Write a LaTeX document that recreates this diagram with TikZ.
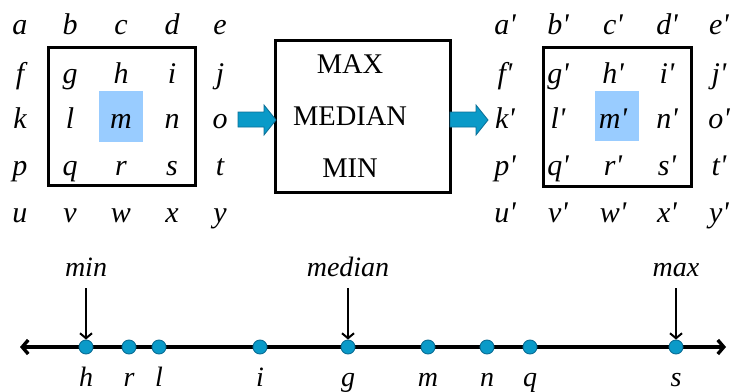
\documentclass[tikz,border=0pt]{standalone}
\usepackage{fontspec}
\setmainfont{Liberation Serif}[Ligatures=TeX]
\usetikzlibrary{arrows.meta,calc}
\definecolor{hilite}{HTML}{99CCFF}
\definecolor{teal}{HTML}{0A9AC8}
\definecolor{tealdark}{HTML}{0A6E96}
\begin{document}
\begin{tikzpicture}[x=1pt,y=-1pt,
  lt/.style={anchor=base,inner sep=0pt,font=\fontsize{30}{32}\selectfont\rmfamily\itshape},
  lb/.style={anchor=base,inner sep=0pt,font=\fontsize{28}{30}\selectfont\rmfamily\itshape},
  up/.style={anchor=base,inner sep=0pt,font=\fontsize{28.5}{30}\selectfont\rmfamily},
  frame/.style={draw=black,line width=3pt},
  blk/.style={fill=teal,draw=tealdark,line width=0.8pt},
  dot/.style={circle,fill=teal,draw=tealdark,line width=0.9pt,minimum size=14pt,inner sep=0pt},
  axis/.style={line width=3.4pt,{Straight Barb[length=6pt,width=14pt]}-{Straight Barb[length=6pt,width=14pt]}},
  pt/.style={line width=2pt,-{Straight Barb[length=5pt,width=12pt]}}]
\useasboundingbox (0,0) rectangle (736,391);
% left grid
\fill[hilite] (99,91) rectangle (143,142);
\draw[frame] (48,47) rectangle (195,185);
\foreach \r/\y in {0/34,1/83,2/128,3/175,4/222}{
  \foreach \c/\x in {0/20,1/70,2/121,3/172,4/220}{
    \pgfmathtruncatemacro\idx{\r*5+\c}
    \pgfmathsetmacro\ch{{"a","b","c","d","e","f","g","h","i","j","k","l","m","n","o","p","q","r","s","t","u","v","w","x","y"}[\idx]}
    \node[lt] (L\r\c) at (\x,\y) {\ch};
  }
}
% right grid
\fill[hilite] (595,91) rectangle (639,141);
\draw[frame] (543,47) rectangle (691,186);
\foreach \r/\y in {0/34,1/83,2/128,3/175,4/222}{
  \foreach \c/\x in {0/505,1/558,2/613,3/667,4/719}{
    \pgfmathtruncatemacro\idx{\r*5+\c}
    \pgfmathsetmacro\ch{{"a","b","c","d","e","f","g","h","i","j","k","l","m","n","o","p","q","r","s","t","u","v","w","x","y"}[\idx]}
    \node[lt] (R\r\c) at (\x,\y) {\ch\textquotesingle};
  }
}
% middle box
\node[frame,minimum width=175pt,minimum height=152pt,inner sep=0pt] (box) at (362.5,116) {};
\node[up] (tmax) at (350,73) {MAX};
\node[up] (tmed) at (350,125) {MEDIAN};
\node[up] (tmin) at (350,177) {MIN};
% block arrows
\draw[blk] (238,112) -- (264,112) -- (264,105) -- (276,120) -- (264,135) -- (264,127) -- (238,127) -- cycle;
\draw[blk] (450,112) -- (476,112) -- (476,105) -- (488,120) -- (476,135) -- (476,127) -- (450,127) -- cycle;
% axis
\coordinate (axL) at (20,347);
\coordinate (axR) at (726,347);
\draw[axis] (axL) -- (axR);
\foreach \n/\x in {h/86,r/129,l/159,i/260,g/348,m/428,n/487,q/530,s/676}{
  \node[dot] (d\n) at (\x,347) {};
  \node[lb] (b\n) at (\x,386) {\n};
}
\node[lb] (tmn) at (86,276) {min};
\node[lb] (tmd) at (348,276) {median};
\node[lb] (tmx) at (676,276) {max};
\draw[pt] (86,288) -- (dh.north);
\draw[pt] (348,288) -- (dg.north);
\draw[pt] (676,288) -- (ds.north);
\end{tikzpicture}
\end{document}
